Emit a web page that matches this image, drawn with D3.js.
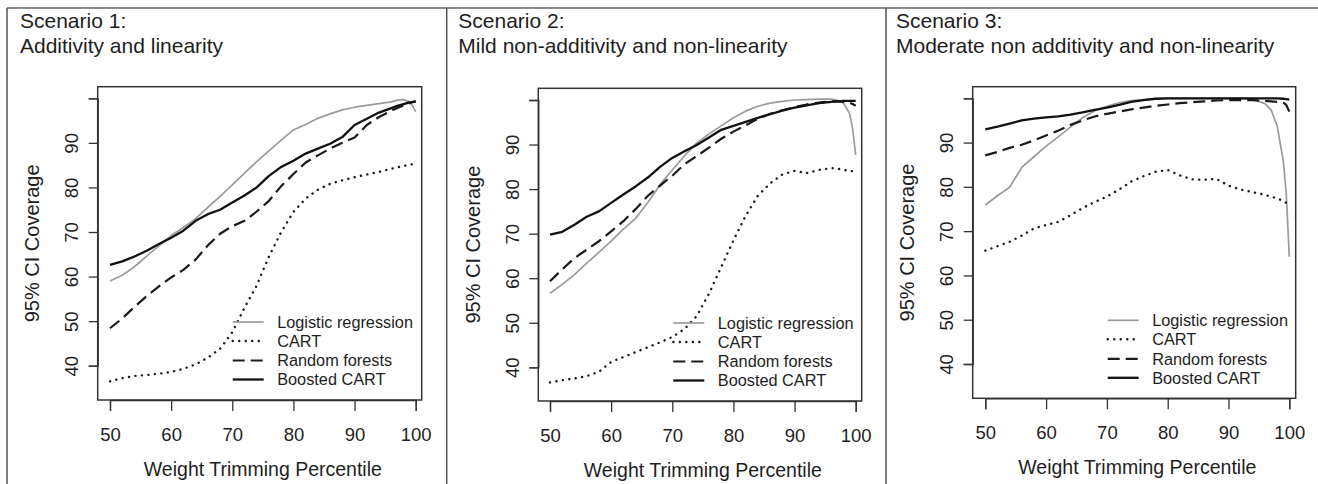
<!DOCTYPE html>
<html>
<head>
<meta charset="utf-8">
<script src="https://cdn.jsdelivr.net/npm/d3@7"></script>
<style>
  html, body { margin: 0; padding: 0; background: #fff; }
  svg { display: block; }
  text { font-family: "Liberation Sans", Arial, sans-serif; fill: #1e1e1e; }
</style>
</head>
<body>
<svg id="chart" width="1318" height="484"></svg>
<script>
// ---------------- data ----------------
const percentiles = [50,52,54,56,58,60,62,64,66,68,70,72,74,76,78,80,82,84,86,88,90,92,94,96,97,98,99,99.5,100];
const xTicks = [50,60,70,80,90,100];
const yTicks = [40,50,60,70,80,90,100];
const yTickLabels = ["40","50","60","70","80","90",""];
const methods = ["Logistic regression","CART","Random forests","Boosted CART"];
const scenarioTitles = [
  ["Scenario 1:","Additivity and linearity"],
  ["Scenario 2:","Mild non-additivity and non-linearity"],
  ["Scenario 3:","Moderate non additivity and non-linearity"]
];
const xTitle = "Weight Trimming Percentile";
const yTitle = "95% CI Coverage";

// Scenario 1
const s1Logistic = [59.0,60.3,62.2,64.6,66.9,69.2,71.0,73.0,75.5,78.0,80.6,83.2,85.8,88.2,90.6,92.9,94.1,95.5,96.5,97.4,98.0,98.4,98.8,99.2,99.6,99.7,99.2,98.3,97.0];
const s1Cart     = [36.5,37.2,37.7,37.9,38.2,38.6,39.3,40.3,41.8,43.8,47.5,53.0,58.0,64.5,70.0,74.5,77.5,79.5,80.8,81.6,82.3,82.9,83.5,84.2,84.5,84.8,85.1,85.2,85.3];
const s1Forest   = [48.4,50.6,53.2,55.6,57.8,59.8,61.5,63.8,67.0,69.6,71.3,72.5,74.6,77.0,80.3,83.0,85.6,87.2,88.7,90.0,91.2,94.0,95.8,97.2,97.8,98.4,98.9,99.1,99.3];
const s1Boosted  = [62.6,63.4,64.5,65.8,67.3,68.7,70.3,72.5,74.0,75.0,76.6,78.2,80.0,82.6,84.6,86.0,87.6,88.7,89.8,91.3,94.0,95.4,96.8,97.8,98.3,98.7,99.1,99.2,99.3];

// Scenario 2
const s2Logistic = [56.6,58.6,60.8,63.4,65.8,68.3,71.0,73.4,77.0,81.0,84.3,87.5,90.3,92.4,94.2,96.0,97.5,98.6,99.3,99.7,100.0,100.1,100.2,100.2,99.9,99.3,97.0,93.5,87.7];
const s2Cart     = [36.6,37.1,37.5,38.0,39.0,41.2,42.3,43.4,44.5,45.6,46.8,48.6,51.5,56.5,62.5,68.5,74.0,78.5,81.3,83.3,84.1,83.6,84.3,84.7,84.6,84.3,84.1,84.0,83.9];
const s2Forest   = [59.3,62.0,64.5,66.4,68.3,70.5,72.8,75.5,78.5,80.8,83.0,85.6,87.4,89.3,91.3,92.9,94.3,95.8,96.9,97.7,98.4,99.0,99.4,99.7,99.7,99.6,99.4,99.1,98.7];
const s2Boosted  = [69.8,70.4,72.0,73.8,75.0,76.9,78.8,80.6,82.6,85.0,87.0,88.5,89.9,91.6,93.3,94.2,95.1,96.0,96.8,97.6,98.3,98.8,99.3,99.6,99.7,99.8,99.8,99.8,99.8];

// Scenario 3
const s3Logistic = [75.9,78.0,79.9,84.4,86.8,89.2,91.3,93.5,95.6,97.2,98.2,99.0,99.5,99.7,99.9,100.0,100.0,100.0,100.0,100.0,100.0,100.0,99.8,98.8,97.4,93.8,86.0,78.5,64.2];
const s3Cart     = [65.6,66.6,67.6,69.0,70.6,71.4,72.1,73.6,75.2,76.6,77.8,79.4,81.2,82.4,83.4,83.8,82.6,81.7,81.6,81.8,80.3,79.4,78.8,78.2,77.8,77.4,76.8,76.4,76.1];
const s3Forest   = [87.1,87.9,88.8,89.5,90.5,91.6,92.7,94.0,95.0,95.9,96.5,97.0,97.5,97.9,98.3,98.6,98.9,99.1,99.3,99.5,99.6,99.6,99.6,99.4,99.3,99.2,99.0,98.5,97.0];
const s3Boosted  = [93.0,93.6,94.3,95.0,95.4,95.7,95.9,96.3,96.8,97.4,97.9,98.5,99.2,99.6,99.9,100.0,100.0,100.0,100.0,100.0,100.0,100.0,100.0,100.0,100.0,100.0,99.9,99.8,99.7];

const scenarioSeries = [
  [s1Logistic, s1Cart, s1Forest, s1Boosted],
  [s2Logistic, s2Cart, s2Forest, s2Boosted],
  [s3Logistic, s3Cart, s3Forest, s3Boosted]
];

// ---------------- layout & style ----------------
const panels = [
  {fx: 7,     tx: 20,    L: 97.7,  T: 86.7, R: 421.7,  B: 400,   x0: 110,    x1: 415.7,  y0: 365.7, y1: 98.3},
  {fx: 446.7, tx: 458.3, L: 538.3, T: 88.3, R: 861.7,  B: 401,   x0: 550,    x1: 855.7,  y0: 367.3, y1: 100},
  {fx: 886,   tx: 896,   L: 972.7, T: 86.7, R: 1295.7, B: 398.3, x0: 985.3,  x1: 1289.3, y0: 364,   y1: 98.3}
];
const styles = [
  {stroke: "#9b9b9b", width: 1.7, dash: null,     cap: "butt"},
  {stroke: "#1a1a1a", width: 2.4, dash: "0.1,6.4", cap: "round"},
  {stroke: "#1a1a1a", width: 2.2, dash: "12,6",   cap: "butt"},
  {stroke: "#111111", width: 2.3, dash: null,     cap: "butt"}
];

const svg = d3.select("#chart");

// outer frame lines
svg.append("line").attr("x1", 7).attr("x2", 1318).attr("y1", 8).attr("y2", 8)
  .attr("stroke", "#666").attr("stroke-width", 1.5);

panels.forEach((p, i) => {
  svg.append("line").attr("x1", p.fx).attr("x2", p.fx).attr("y1", 8).attr("y2", 484)
    .attr("stroke", "#555").attr("stroke-width", 1.5);

  const g = svg.append("g");
  const x = d3.scaleLinear().domain([50, 100]).range([p.x0, p.x1]);
  const y = d3.scaleLinear().domain([40, 100]).range([p.y0, p.y1]);

  // titles
  g.append("text").attr("x", p.tx).attr("y", 28).attr("font-size", 21).text(scenarioTitles[i][0]);
  g.append("text").attr("x", p.tx).attr("y", 53).attr("font-size", 21).text(scenarioTitles[i][1]);

  // x axis
  const xAxis = d3.axisBottom(x).tickValues(xTicks).tickSize(11).tickPadding(17).tickFormat(d3.format("d"));
  const xg = g.append("g").attr("transform", `translate(0,${p.B})`).call(xAxis);
  xg.select(".domain").attr("stroke", "#333").attr("stroke-width", 1.3);
  xg.selectAll(".tick line").attr("stroke", "#333").attr("stroke-width", 1.3);
  xg.selectAll(".tick text").attr("font-size", 18.5).attr("fill", "#1e1e1e")
    .attr("font-family", "Liberation Sans, Arial, sans-serif");

  // y axis
  const yAxis = d3.axisLeft(y).tickValues(yTicks).tickSize(9).tickPadding(0)
    .tickFormat((d, k) => yTickLabels[k]);
  const yg = g.append("g").attr("transform", `translate(${p.L},0)`).call(yAxis);
  yg.select(".domain").attr("stroke", "#333").attr("stroke-width", 1.3);
  yg.selectAll(".tick line").attr("stroke", "#333").attr("stroke-width", 1.3);
  yg.selectAll(".tick text")
    .attr("font-size", 18.5).attr("fill", "#1e1e1e")
    .attr("font-family", "Liberation Sans, Arial, sans-serif")
    .attr("text-anchor", "middle")
    .attr("dy", null)
    .attr("x", null)
    .attr("transform", "translate(-19.5,0) rotate(-90)");

  // axis titles
  g.append("text").attr("x", (p.x0 + p.x1) / 2).attr("y", p.B + 75.5)
    .attr("text-anchor", "middle").attr("font-size", 19.5).text(xTitle);
  g.append("text")
    .attr("transform", `translate(${p.L - 58.5},${(p.T + p.B) / 2}) rotate(-90)`)
    .attr("text-anchor", "middle").attr("font-size", 20).text(yTitle);

  // plot box
  g.append("rect").attr("x", p.L).attr("y", p.T).attr("width", p.R - p.L).attr("height", p.B - p.T)
    .attr("fill", "none").attr("stroke", "#333").attr("stroke-width", 1.5);

  // series
  const line = d3.line().x((d, k) => x(percentiles[k])).y(d => y(d));
  scenarioSeries[i].forEach((vals, k) => {
    const st = styles[k];
    g.append("path").datum(vals).attr("d", line)
      .attr("fill", "none").attr("stroke", st.stroke).attr("stroke-width", st.width)
      .attr("stroke-linecap", st.cap).attr("stroke-linejoin", "round")
      .attr("stroke-dasharray", st.dash);
  });

  // legend
  const rowY = [p.B - 78, p.B - 59, p.B - 39.5, p.B - 20.5];
  methods.forEach((m, k) => {
    const st = styles[k];
    g.append("line").attr("x1", p.L + 135).attr("x2", p.L + 166).attr("y1", rowY[k]).attr("y2", rowY[k])
      .attr("stroke", st.stroke).attr("stroke-width", st.width)
      .attr("stroke-linecap", st.cap).attr("stroke-dasharray", st.dash);
    g.append("text").attr("x", p.L + 179.5).attr("y", rowY[k]).attr("dy", "0.36em")
      .attr("font-size", 16.3).text(m);
  });
});
</script>
</body>
</html>
